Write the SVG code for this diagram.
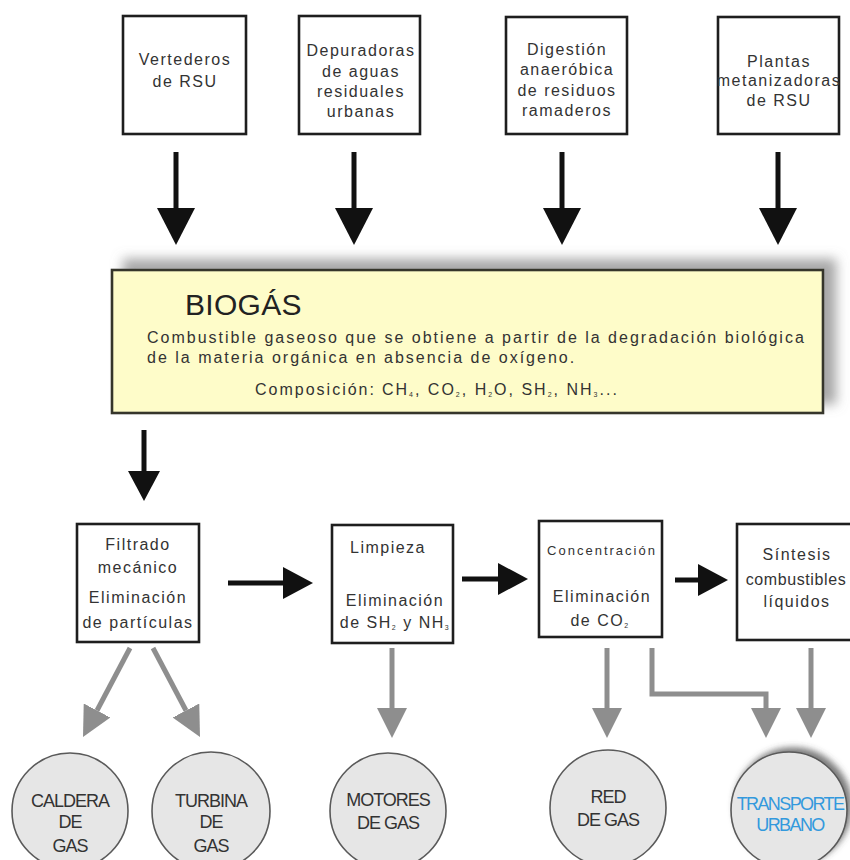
<svg xmlns="http://www.w3.org/2000/svg" width="850" height="860" viewBox="0 0 850 860">
  <style>
    .box { fill: #ffffff; stroke: #1e1e1e; stroke-width: 2.6; }
    .lbl { font-family: "Liberation Sans", Arial, sans-serif; font-size: 16px; letter-spacing: 1.5px; fill: #333; text-anchor: middle; }
    .lbl-s { font-family: "Liberation Sans", Arial, sans-serif; font-size: 13px; letter-spacing: 2px; fill: #333; text-anchor: middle; }
    .bio-box { fill: #fefcc9; stroke: #35352c; stroke-width: 2.6; }
    .bio-title { font-family: "Liberation Sans", Arial, sans-serif; font-size: 30px; letter-spacing: 0.3px; fill: #222; }
    .bio-text { font-family: "Liberation Sans", Arial, sans-serif; font-size: 16px; letter-spacing: 2px; fill: #333; }
    .sub { font-size: 7px; }
    .circ { fill: #e6e6e6; stroke: #5a5a5a; stroke-width: 1.6; }
    .clbl { font-family: "Liberation Sans", Arial, sans-serif; font-size: 18px; letter-spacing: -1px; fill: #333; text-anchor: middle; }
    .clbl-blue { fill: #3399dd; letter-spacing: -1.6px; }
    .blk { fill: none; stroke: #111; stroke-width: 5; }
    .gry { fill: none; stroke: #8e8e8e; stroke-width: 5; stroke-linejoin: miter; }
  </style>
  <defs>
    <marker id="headBig" markerUnits="userSpaceOnUse" markerWidth="37" markerHeight="38" viewBox="0 0 37 38" refX="0" refY="19" orient="auto">
      <path d="M0,0 L37,19 L0,38 z" fill="#111"/>
    </marker>
    <marker id="headMid" markerUnits="userSpaceOnUse" markerWidth="30" markerHeight="32" viewBox="0 0 30 32" refX="0" refY="16" orient="auto">
      <path d="M0,0 L30,16 L0,32 z" fill="#111"/>
    </marker>
    <marker id="headGray" markerUnits="userSpaceOnUse" markerWidth="30" markerHeight="30" viewBox="0 0 30 30" refX="0" refY="15" orient="auto">
      <path d="M0,0 L30,15 L0,30 z" fill="#8e8e8e"/>
    </marker>
    <filter id="boxShadow" x="-10%" y="-40%" width="125%" height="160%">
      <feGaussianBlur in="SourceAlpha" stdDeviation="6"/>
      <feOffset dx="12" dy="-10" result="b"/>
      <feFlood flood-color="#8a8a8a" flood-opacity="0.75"/>
      <feComposite in2="b" operator="in"/>
      <feMerge><feMergeNode/><feMergeNode in="SourceGraphic"/></feMerge>
    </filter>
    <filter id="circShadow" x="-30%" y="-30%" width="160%" height="160%">
      <feGaussianBlur in="SourceAlpha" stdDeviation="3"/>
      <feOffset dx="4" dy="-4" result="b"/>
      <feFlood flood-color="#444" flood-opacity="0.7"/>
      <feComposite in2="b" operator="in"/>
      <feMerge><feMergeNode/><feMergeNode in="SourceGraphic"/></feMerge>
    </filter>
  </defs>

  <!-- sources -->
  <g id="vertederos">
    <rect class="box" x="123" y="16" width="123" height="118"/>
    <text class="lbl" x="185" y="65">Vertederos</text>
    <text class="lbl" x="185" y="87">de RSU</text>
  </g>
  <g id="depuradoras">
    <rect class="box" x="299" y="16" width="121" height="118"/>
    <text class="lbl" x="361" y="56">Depuradoras</text>
    <text class="lbl" x="361" y="77">de aguas</text>
    <text class="lbl" x="361" y="97">residuales</text>
    <text class="lbl" x="361" y="117">urbanas</text>
  </g>
  <g id="digestion">
    <rect class="box" x="506" y="17" width="121" height="117"/>
    <text class="lbl" x="567" y="55">Digestión</text>
    <text class="lbl" x="567" y="75">anaeróbica</text>
    <text class="lbl" x="567" y="96">de residuos</text>
    <text class="lbl" x="567" y="116">ramaderos</text>
  </g>
  <g id="plantas">
    <rect class="box" x="718" y="17" width="121" height="117"/>
    <text class="lbl" x="779" y="67">Plantas</text>
    <text class="lbl" x="779" y="86">metanizadoras</text>
    <text class="lbl" x="779" y="106">de RSU</text>
  </g>

  <!-- biogas definition -->
  <g id="biogas">
    <rect class="bio-box" x="112" y="270" width="711" height="143" filter="url(#boxShadow)"/>
    <text class="bio-title" x="185" y="315">BIOGÁS</text>
    <text class="bio-text" x="147" y="343">Combustible gaseoso que se obtiene a partir de la degradación biológica</text>
    <text class="bio-text" x="147" y="363">de la materia orgánica en absencia de oxígeno.</text>
    <text class="bio-text" x="255" y="395">Composición:<tspan dx="6">CH</tspan><tspan class="sub" dy="2">4</tspan><tspan dy="-2">, CO</tspan><tspan class="sub" dy="2">2</tspan><tspan dy="-2">, H</tspan><tspan class="sub" dy="2">2</tspan><tspan dy="-2">O, SH</tspan><tspan class="sub" dy="2">2</tspan><tspan dy="-2">, NH</tspan><tspan class="sub" dy="2">3</tspan><tspan dy="-2">...</tspan></text>
  </g>

  <!-- treatment stages -->
  <g id="filtrado">
    <rect class="box" x="77" y="524" width="122" height="118"/>
    <text class="lbl" x="138" y="550">Filtrado</text>
    <text class="lbl" x="138" y="573">mecánico</text>
    <text class="lbl" x="138" y="603">Eliminación</text>
    <text class="lbl" x="138" y="628">de partículas</text>
  </g>
  <g id="limpieza">
    <rect class="box" x="332" y="525" width="121" height="118"/>
    <text class="lbl" x="388" y="553">Limpieza</text>
    <text class="lbl" x="395" y="606">Eliminación</text>
    <text class="lbl" x="395" y="628">de SH<tspan class="sub" dy="2">2</tspan><tspan dy="-2"> y NH</tspan><tspan class="sub" dy="2">3</tspan></text>
  </g>
  <g id="concentracion">
    <rect class="box" x="539" y="521" width="123" height="116"/>
    <text class="lbl-s" x="602" y="555">Concentración</text>
    <text class="lbl" x="602" y="602">Eliminación</text>
    <text class="lbl" x="600" y="626">de CO<tspan class="sub" dy="2">2</tspan></text>
  </g>
  <g id="sintesis">
    <rect class="box" x="737" y="524" width="125" height="116"/>
    <text class="lbl" x="797" y="560">Síntesis</text>
    <text class="lbl" x="796" y="585" style="letter-spacing:0.6px">combustibles</text>
    <text class="lbl" x="797" y="607">líquidos</text>
  </g>

  <!-- end uses -->
  <g id="caldera">
    <circle class="circ" cx="70" cy="811" r="58"/>
    <text class="clbl" x="70" y="807">CALDERA</text>
    <text class="clbl" x="70" y="828">DE</text>
    <text class="clbl" x="70" y="852">GAS</text>
  </g>
  <g id="turbina">
    <circle class="circ" cx="211" cy="811" r="59"/>
    <text class="clbl" x="211" y="807">TURBINA</text>
    <text class="clbl" x="211" y="828">DE</text>
    <text class="clbl" x="211" y="852">GAS</text>
  </g>
  <g id="motores">
    <circle class="circ" cx="388" cy="811" r="58"/>
    <text class="clbl" x="388" y="806">MOTORES</text>
    <text class="clbl" x="388" y="829">DE GAS</text>
  </g>
  <g id="red-gas">
    <circle class="circ" cx="608" cy="808" r="58"/>
    <text class="clbl" x="608" y="803">RED</text>
    <text class="clbl" x="608" y="826">DE GAS</text>
  </g>
  <g id="transporte">
    <circle class="circ" cx="789" cy="810" r="58" filter="url(#circShadow)"/>
    <text class="clbl clbl-blue" x="790" y="810">TRANSPORTE</text>
    <text class="clbl clbl-blue" x="790" y="831">URBANO</text>
  </g>

  <!-- connectors -->
  <g id="connectors">
    <line class="blk" x1="176" y1="152" x2="176" y2="208" marker-end="url(#headBig)"/>
    <line class="blk" x1="354" y1="152" x2="354" y2="208" marker-end="url(#headBig)"/>
    <line class="blk" x1="562" y1="152" x2="562" y2="208" marker-end="url(#headBig)"/>
    <line class="blk" x1="778" y1="152" x2="778" y2="208" marker-end="url(#headBig)"/>
    <line class="blk" x1="144" y1="430" x2="144" y2="471" marker-end="url(#headMid)"/>
    <line class="blk" x1="228" y1="583" x2="283" y2="583" marker-end="url(#headMid)"/>
    <line class="blk" x1="462" y1="579" x2="498" y2="579" marker-end="url(#headMid)"/>
    <line class="blk" x1="675" y1="580" x2="698" y2="580" marker-end="url(#headMid)"/>
    <line class="gry" x1="130" y1="648" x2="97" y2="710.5" marker-end="url(#headGray)"/>
    <line class="gry" x1="153" y1="648" x2="186" y2="710.5" marker-end="url(#headGray)"/>
    <line class="gry" x1="392" y1="648" x2="392" y2="708" marker-end="url(#headGray)"/>
    <line class="gry" x1="607" y1="648" x2="607" y2="708" marker-end="url(#headGray)"/>
    <polyline class="gry" points="652,648 652,694 766,694 766,708" marker-end="url(#headGray)"/>
    <line class="gry" x1="811" y1="648" x2="811" y2="708" marker-end="url(#headGray)"/>
  </g>
</svg>
